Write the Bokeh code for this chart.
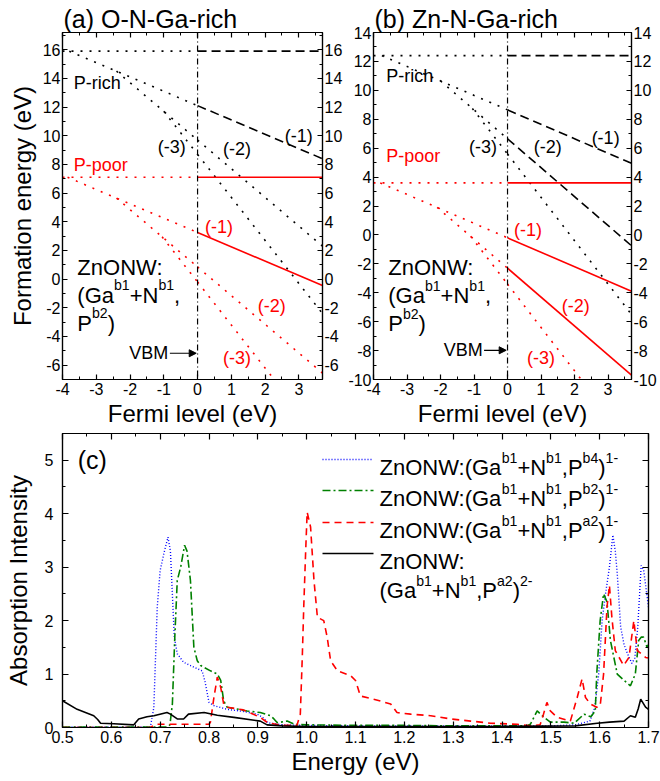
from bokeh.plotting import figure
from bokeh.layouts import column, row
from bokeh.models import (Range1d, LinearAxis, FixedTicker, Label, Arrow, NormalHead, Span)
from bokeh.embed import file_html
from bokeh.resources import INLINE

FONT = "Liberation Sans"
RED = "#FF0000"

# ---------------- data: formation energies at the VBM (eV) per charge state ----------------
charges = [0, -1, -2, -3]
fermi_lo, fermi_hi = -4.0, 3.7
vbm = 0.0
a_rich_E0 = [15.9, 12.1, 9.7, 8.7]
a_poor_E0 = [7.1, 3.25, 0.85, -0.2]
b_rich_E0 = [12.4, 8.65, 6.65, 5.6]
b_poor_E0 = [3.6, -0.2, -2.3, -3.4]
a_rich_style = ["dashed", "dashed", "dotted", "dotted"]
a_poor_style = ["solid", "solid", "dotted", "dotted"]
b_rich_style = ["dashed", "dashed", "dashed", "dotted"]
b_poor_style = ["solid", "solid", "solid", "dotted"]
charge_labels = ["(-1)", "(-2)", "(-3)"]

fermi_ticks = [-4, -3, -2, -1, 0, 1, 2, 3]
a_yticks = [-6, -4, -2, 0, 2, 4, 6, 8, 10, 12, 14, 16]
b_yticks = [-10, -8, -6, -4, -2, 0, 2, 4, 6, 8, 10, 12, 14]

# ---------------- data: absorption spectra ----------------
energy_b4 = [0.50, 0.680, 0.687, 0.694, 0.700, 0.709, 0.716, 0.721, 0.729, 0.735, 0.748, 0.769,
             0.786, 0.792, 0.800, 0.810, 0.837, 0.870, 0.899, 0.910, 0.920, 0.950, 1.000, 1.100,
             1.200, 1.300, 1.400, 1.500, 1.550, 1.580, 1.590, 1.598, 1.605, 1.612, 1.620, 1.627,
             1.632, 1.636, 1.643, 1.650, 1.657, 1.666, 1.672, 1.678, 1.685, 1.690, 1.700]
absorb_b4 = [0.01, 0.01, 0.37, 2.25, 2.94, 3.31, 3.56, 3.30, 1.69, 1.38, 1.22, 1.13,
             1.06, 0.85, 0.47, 0.41, 0.34, 0.30, 0.25, 0.19, 0.09, 0.05, 0.04, 0.03,
             0.03, 0.03, 0.03, 0.03, 0.05, 0.12, 0.37, 1.00, 2.00, 2.50, 3.00, 3.60,
             3.30, 2.88, 1.88, 1.55, 1.38, 1.20, 1.30, 1.88, 3.03, 2.95, 2.25]

energy_b2 = [0.50, 0.715, 0.720, 0.725, 0.730, 0.735, 0.742, 0.750, 0.755, 0.762, 0.769, 0.776,
             0.783, 0.803, 0.817, 0.824, 0.830, 0.837, 0.878, 0.905, 0.926, 0.933, 0.940, 0.960,
             0.975, 1.000, 1.100, 1.200, 1.300, 1.400, 1.450, 1.458, 1.472, 1.486, 1.499, 1.527,
             1.548, 1.568, 1.582, 1.591, 1.594, 1.601, 1.608, 1.615, 1.622, 1.636, 1.650, 1.663,
             1.673, 1.680, 1.685, 1.690, 1.697, 1.700]
absorb_b2 = [0.01, 0.01, 0.05, 0.44, 1.70, 2.75, 3.00, 3.41, 3.30, 2.75, 1.50, 1.25,
             1.16, 1.06, 1.00, 0.88, 0.50, 0.38, 0.31, 0.28, 0.22, 0.16, 0.09, 0.12,
             0.06, 0.05, 0.04, 0.04, 0.03, 0.03, 0.03, 0.06, 0.31, 0.19, 0.10, 0.10,
             0.08, 0.25, 0.20, 0.31, 1.00, 2.00, 2.50, 2.35, 1.63, 1.00, 0.88, 0.78,
             1.00, 1.63, 1.69, 1.69, 1.50, 1.55]

energy_a2 = [0.50, 0.680, 0.690, 0.700, 0.800, 0.803, 0.810, 0.817, 0.824, 0.830, 0.837, 0.870,
             0.905, 0.920, 0.950, 0.980, 0.987, 0.991, 0.994, 0.998, 1.001, 1.008, 1.015, 1.022,
             1.035, 1.042, 1.049, 1.063, 1.090, 1.100, 1.110, 1.137, 1.172, 1.185, 1.213, 1.254,
             1.295, 1.336, 1.377, 1.431, 1.458, 1.478, 1.485, 1.492, 1.499, 1.513, 1.540, 1.554,
             1.564, 1.571, 1.581, 1.594, 1.601, 1.608, 1.615, 1.620, 1.625, 1.632, 1.649, 1.660,
             1.670, 1.677, 1.694, 1.700]
absorb_a2 = [0.00, 0.00, 0.06, 0.06, 0.06, 0.10, 0.56, 0.94, 0.75, 0.44, 0.38, 0.33,
             0.19, 0.09, 0.04, 0.04, 0.25, 1.31, 2.25, 3.31, 4.03, 3.75, 2.75, 2.06,
             2.00, 1.69, 1.25, 1.06, 0.97, 0.88, 0.59, 0.53, 0.44, 0.28, 0.25, 0.22,
             0.16, 0.12, 0.08, 0.06, 0.03, 0.05, 0.25, 0.47, 0.31, 0.19, 0.12, 0.56,
             0.91, 0.56, 0.44, 0.38, 0.40, 1.00, 2.25, 2.66, 2.06, 1.44, 1.16, 1.31,
             2.00, 1.44, 1.31, 1.30]

energy_a2_2m = [0.500, 0.530, 0.564, 0.572, 0.578, 0.605, 0.646, 0.656, 0.673, 0.687, 0.714, 0.721,
                0.735, 0.748, 0.758, 0.790, 0.817, 0.851, 0.905, 0.919, 0.950, 1.000, 1.200, 1.400,
                1.550, 1.595, 1.620, 1.650, 1.663, 1.673, 1.679, 1.684, 1.694, 1.700]
absorb_a2_2m = [0.50, 0.34, 0.22, 0.15, 0.08, 0.07, 0.05, 0.16, 0.20, 0.22, 0.28, 0.25,
                0.16, 0.16, 0.25, 0.28, 0.23, 0.19, 0.12, 0.05, 0.03, 0.02, 0.02, 0.02,
                0.03, 0.08, 0.10, 0.12, 0.22, 0.19, 0.35, 0.53, 0.38, 0.34]

energy_ticks = [0.5, 0.6, 0.7, 0.8, 0.9, 1.0, 1.1, 1.2, 1.3, 1.4, 1.5, 1.6, 1.7]
absorb_ticks = [0, 1, 2, 3, 4, 5]

# rich-text labels: (text, is_superscript)
defect_rows = [
    [("ZnONW:", False)],
    [("(Ga", False), ("b1", True), ("+N", False), ("b1", True), (",", False)],
    [("P", False), ("b2", True), (")", False)],
]
legend_rows = [
    [("ZnONW:(Ga", False), ("b1", True), ("+N", False), ("b1", True), (",P", False), ("b4", True),
     (")", False), ("1-", True)],
    [("ZnONW:(Ga", False), ("b1", True), ("+N", False), ("b1", True), (",P", False), ("b2", True),
     (")", False), ("1-", True)],
    [("ZnONW:(Ga", False), ("b1", True), ("+N", False), ("b1", True), (",P", False), ("a2", True),
     (")", False), ("1-", True)],
    [("ZnONW:", False)],
    [("(Ga", False), ("b1", True), ("+N", False), ("b1", True), (",P", False), ("a2", True),
     (")", False), ("2-", True)],
]

DASH = {"dotted": "2 7", "dashed": "9 5", "solid": "solid"}
CHAR_W = {'Z': 611, 'n': 556, 'O': 778, 'N': 722, 'W': 944, ':': 278, '(': 333, ')': 333,
          'G': 778, 'a': 556, '+': 584, ',': 278, 'P': 667, 'b': 556, '1': 556, '2': 556,
          '4': 556, '-': 333, ' ': 278}


def fmt(t):
    return str(t) if isinstance(t, int) else f"{t:.1f}"


def style_axis(ax, ticks, minor, show_labels, standoff=2, tick_in=5, minor_in=3):
    ax.ticker = FixedTicker(ticks=ticks, minor_ticks=minor)
    ax.major_tick_in = tick_in
    ax.major_tick_out = 0
    ax.minor_tick_in = minor_in
    ax.minor_tick_out = 0
    ax.axis_line_color = "black"
    ax.axis_line_width = 1.2
    ax.major_tick_line_width = 1.2
    ax.minor_tick_line_width = 1.0
    ax.major_label_text_font = FONT
    if show_labels:
        ax.major_label_text_color = "black"
        ax.major_label_text_font_size = "16px"
        ax.major_label_overrides = {t: fmt(t) for t in ticks}
    else:
        ax.major_label_text_color = None
        ax.major_label_text_font_size = "1px"
    ax.major_label_standoff = standoff
    ax.axis_label_text_font = FONT
    ax.axis_label_text_font_size = "24px"
    ax.axis_label_text_font_style = "normal"
    ax.axis_label_text_color = "black"


def txt(p, x, y, s, color="black", size="18px", align="left", units="data", baseline="middle"):
    p.add_layout(Label(x=x, y=y, text=s, text_font=FONT, text_font_size=size, text_color=color,
                       text_align=align, text_baseline=baseline, x_units=units, y_units=units))


def rich(p, x, y, segs, size, units="data"):
    cur = 0.0
    for s, sup in segs:
        fs = size * 0.64 if sup else size
        p.add_layout(Label(x=x, y=y, x_units=units, y_units=units, x_offset=cur,
                           y_offset=size * 0.45 if sup else 0, text=s, text_font=FONT,
                           text_font_size=f"{fs:.1f}px", text_color="black",
                           text_align="left", text_baseline="alphabetic"))
        cur += sum(CHAR_W[c] for c in s) * fs / 1000.0


def formation_lines(p, E0s, styles, color):
    for i in range(len(charges)):
        q, e0 = charges[i], E0s[i]
        if i == 0:
            xs = fermi_lo
        else:
            xs = max(fermi_lo, (E0s[i - 1] - e0) / (q - charges[i - 1]))
        p.line([xs, vbm], [e0 + q * xs, e0 + q * vbm], line_color=color, line_width=1.6,
               line_dash=DASH["dotted"])
        p.line([vbm, fermi_hi], [e0 + q * vbm, e0 + q * fermi_hi], line_color=color,
               line_width=1.6, line_dash=DASH[styles[i]])


def fe_panel(width, yr, yticks, mbl, mbr, title, ylabel):
    p = figure(width=width, height=430, x_range=Range1d(fermi_lo, fermi_hi),
               y_range=Range1d(*yr), output_backend="svg", toolbar_location=None,
               min_border_left=mbl, min_border_right=mbr, min_border_top=32,
               min_border_bottom=51, title=title)
    p.title.text_font = FONT
    p.title.text_font_size = "25px"
    p.title.text_font_style = "normal"
    p.title.text_color = "black"
    p.title.align = "left"
    p.title.standoff = 0
    p.title.offset = 1
    p.grid.visible = False
    p.outline_line_color = "black"
    p.outline_line_width = 1.2
    yminor = list(range(int(yr[0]), int(yr[1]) + 1))
    xminor = [fermi_lo + 0.5 * k for k in range(16)]
    style_axis(p.xaxis[0], fermi_ticks, xminor, True, standoff=3)
    p.xaxis[0].axis_label = "Fermi level (eV)"
    p.xaxis[0].axis_label_standoff = 2
    style_axis(p.yaxis[0], yticks, yminor, True, standoff=2)
    if ylabel:
        p.yaxis[0].axis_label = ylabel
        p.yaxis[0].axis_label_standoff = 4
    ra = LinearAxis()
    style_axis(ra, yticks, yminor, True, standoff=2)
    p.add_layout(ra, "right")
    ta = LinearAxis()
    style_axis(ta, fermi_ticks, xminor, False, standoff=0)
    p.add_layout(ta, "above")
    p.add_layout(Span(location=vbm, dimension="height", line_color="black", line_width=1.2,
                      line_dash="6 3 1 3"))
    return p


# ---------------- panel (a) ----------------
pa = fe_panel(345, (-7.0, 17.2), a_yticks, 62, 22, "(a) O-N-Ga-rich", "Formation energy (eV)")
formation_lines(pa, a_rich_E0, a_rich_style, "black")
formation_lines(pa, a_poor_E0, a_poor_style, RED)
txt(pa, -3.67, 13.7, "P-rich")
txt(pa, -3.67, 7.95, "P-poor", color=RED)
for lab, (x, y) in zip(charge_labels, [(2.58, 10.0), (0.75, 9.1), (-1.18, 9.2)]):
    txt(pa, x, y, lab)
for lab, (x, y) in zip(charge_labels, [(0.22, 3.64), (1.78, -1.89), (0.75, -5.5)]):
    txt(pa, x, y, lab, color=RED)
for segs, y in zip(defect_rows, [0.81, -1.12, -3.06]):
    rich(pa, -3.56, y, segs, 22)
txt(pa, -0.87, -5.17, "VBM", align="right")
pa.add_layout(Arrow(x_start=-0.82, y_start=-5.17, x_end=-0.04, y_end=-5.17, line_width=1.2,
                    end=NormalHead(size=7, fill_color="black", line_color="black")))

# ---------------- panel (b) ----------------
pb = fe_panel(315, (-10.0, 14.0), b_yticks, 26, 29, "(b) Zn-N-Ga-rich", None)
formation_lines(pb, b_rich_E0, b_rich_style, "black")
formation_lines(pb, b_poor_E0, b_poor_style, RED)
txt(pb, -3.62, 11.0, "P-rich")
txt(pb, -3.62, 5.45, "P-poor", color=RED)
for lab, (x, y) in zip(charge_labels, [(2.51, 6.67), (0.78, 6.09), (-1.15, 6.09)]):
    txt(pb, x, y, lab)
for lab, (x, y) in zip(charge_labels, [(0.19, 0.34), (1.62, -4.9), (0.58, -8.5)]):
    txt(pb, x, y, lab, color=RED)
for segs, y in zip(defect_rows, [-2.24, -4.19, -6.15]):
    rich(pb, -3.56, y, segs, 22)
txt(pb, -0.74, -7.98, "VBM", align="right")
pb.add_layout(Arrow(x_start=-0.70, y_start=-7.98, x_end=-0.04, y_end=-7.98, line_width=1.2,
                    end=NormalHead(size=7, fill_color="black", line_color="black")))

# ---------------- panel (c) ----------------
pc = figure(width=660, height=348, x_range=Range1d(0.5, 1.7), y_range=Range1d(0, 5.5),
            output_backend="svg", toolbar_location=None, min_border_left=62,
            min_border_right=12, min_border_top=3, min_border_bottom=51)
pc.grid.visible = False
pc.outline_line_color = "black"
pc.outline_line_width = 1.2
eminor = [0.5 + 0.05 * k for k in range(25)]
aminor = [0.5 * k for k in range(12)]
style_axis(pc.xaxis[0], energy_ticks, eminor, True, standoff=3, tick_in=6)
pc.xaxis[0].axis_label = "Energy (eV)"
pc.xaxis[0].axis_label_standoff = 2
style_axis(pc.yaxis[0], absorb_ticks, aminor, True, standoff=9, tick_in=6)
pc.yaxis[0].axis_label = "Absorption Intensity"
pc.yaxis[0].axis_label_standoff = 10
rc = LinearAxis()
style_axis(rc, absorb_ticks, aminor, False, standoff=0, tick_in=6)
pc.add_layout(rc, "right")
tc = LinearAxis()
style_axis(tc, energy_ticks, eminor, False, standoff=0, tick_in=6)
pc.add_layout(tc, "above")

series_styles = [("#0000FF", 1.4, "1 2"), ("#008000", 1.6, "8 3 2 3"),
                 (RED, 1.6, "7 5"), ("black", 1.6, "solid")]
series_data = [(energy_b4, absorb_b4), (energy_b2, absorb_b2),
               (energy_a2, absorb_a2), (energy_a2_2m, absorb_a2_2m)]
for (ex, ay), (col, lw, dash) in zip(series_data, series_styles):
    pc.line(ex, ay, line_color=col, line_width=lw, line_dash=dash)

# legend: sample lines (screen units, from frame bottom-left) + rich-text labels
sample_rows = [268, 237, 205, 174]
for yc, (col, lw, dash) in zip(sample_rows, series_styles):
    pc.add_layout(Arrow(x_start=260, y_start=yc, x_end=311, y_end=yc, start_units="screen",
                        end_units="screen", start=None, end=None, line_color=col,
                        line_width=lw, line_dash=dash))
for segs, yb in zip(legend_rows, [260, 229, 197, 166, 137]):
    rich(pc, 317, yb, segs, 22, units="screen")
txt(pc, 0.531, 5.0, "(c)", size="25px")

layout = column(row(pa, pb), pc)
open("out.html", "w").write(file_html(layout, INLINE))
